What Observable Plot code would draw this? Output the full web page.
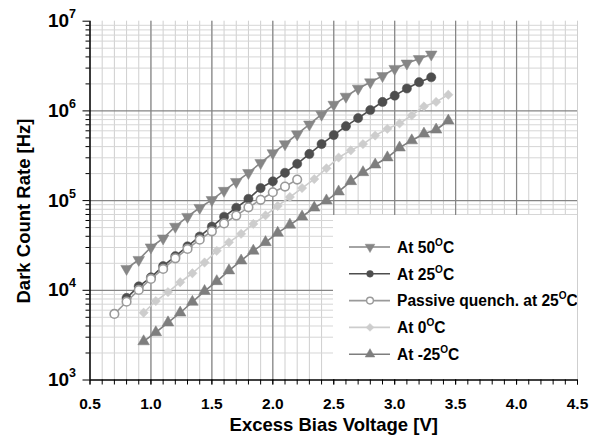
<!DOCTYPE html>
<html><head><meta charset="utf-8">
<script src="https://cdn.jsdelivr.net/npm/d3@7"></script>
<script src="https://cdn.jsdelivr.net/npm/@observablehq/plot@0.6"></script>
<style>
body{margin:0;background:#fff;}
#wrap{position:relative;width:598px;height:442px;overflow:hidden;}
#legend{position:absolute;left:333px;top:215px;}
#ytitle{position:absolute;left:24px;top:211px;transform:translate(-50%,-50%) rotate(-90deg);white-space:nowrap;
  font-family:'Liberation Sans', Arial, sans-serif;font-weight:bold;font-size:18.5px;color:#000;line-height:1;}
</style></head><body><div id="wrap"></div>
<script>
// ---- data ----
const seriesNames = ["At 50", "At 25", "Passive quench. at 25", "At 0", "At -25"];
const v50 = [0.8,0.9,1.0,1.1,1.2,1.3,1.4,1.5,1.6,1.7,1.8,1.9,2.0,2.1,2.2,2.3,2.4,2.5,2.6,2.7,2.8,2.9,3.0,3.1,3.2,3.3];
const dcr50 = [17400,21900,30200,38000,51300,66100,83200,102000,129000,162000,204000,263000,339000,427000,550000,708000,912000,1175000,1445000,1778000,2089000,2455000,2951000,3388000,3802000,4266000];
const v25 = [0.8,0.9,1.0,1.1,1.2,1.3,1.4,1.5,1.6,1.7,1.8,1.9,2.0,2.1,2.2,2.3,2.4,2.5,2.6,2.7,2.8,2.9,3.0,3.1,3.2,3.3];
const dcr25 = [8220,11070,13960,18620,23990,30900,39800,51300,66100,83200,104700,138000,164100,204200,257000,331100,426600,537000,676100,831800,1023000,1259000,1479000,1778000,2089000,2371000];
const vPassive = [0.7,0.8,0.9,1.0,1.1,1.2,1.3,1.4,1.5,1.6,1.7,1.8,1.9,2.0,2.1,2.2];
const dcrPassive = [5450,7460,10090,13400,17300,22700,28900,36700,45500,55600,68100,84100,101900,123900,143500,171400];
const v0 = [0.94,1.04,1.14,1.24,1.34,1.44,1.54,1.64,1.74,1.84,1.94,2.04,2.14,2.24,2.34,2.44,2.54,2.64,2.74,2.84,2.94,3.04,3.14,3.24,3.34,3.44];
const dcr0 = [5620,7590,9550,12300,15490,20420,27540,34280,42660,54950,68390,87100,109600,138000,173800,229100,302000,363100,426600,530900,631000,724400,891300,1122000,1259000,1514000];
const vM25 = [0.94,1.04,1.14,1.24,1.34,1.44,1.54,1.64,1.74,1.84,1.94,2.04,2.14,2.24,2.34,2.44,2.54,2.64,2.74,2.84,2.94,3.04,3.14,3.24,3.34,3.44];
const dcrM25 = [2690,3390,4370,5620,7410,9770,12590,16600,21380,27540,34280,43650,53700,66100,83200,100000,125900,164100,206500,251200,302000,389000,467700,555900,616600,776200];

const xTickLabels = [0.5,1.0,1.5,2.0,2.5,3.0,3.5,4.0,4.5];
const yTickLabels = [1e3,1e4,1e5,1e6,1e7];
const xTitle = "Excess Bias Voltage [V]";
const yTitle = "Dark Count Rate [Hz]";

// ---- styles ----
const styles = [
  {color:"#868686", symbol:"triangle", rotate:180, fill:"#868686", r:4.3, lsym:d3.symbolTriangle, lrot:180},
  {color:"#4e4e4e", symbol:"circle", rotate:0, fill:"#4e4e4e", r:4.6, lsym:d3.symbolCircle, lrot:0},
  {color:"#9a9a9a", symbol:"circle", rotate:0, fill:"#ffffff", r:4.3, lsym:d3.symbolCircle, lrot:0},
  {color:"#cdcdcd", symbol:"diamond2", rotate:0, fill:"#cdcdcd", r:4.2, lsym:d3.symbolDiamond2, lrot:0},
  {color:"#7e7e7e", symbol:"triangle", rotate:0, fill:"#7e7e7e", r:4.3, lsym:d3.symbolTriangle, lrot:0}
];

const allV = [v50, v25, vPassive, v0, vM25];
const allD = [dcr50, dcr25, dcrPassive, dcr0, dcrM25];
const tables = allV.map((vs, i) => vs.map((v, j) => ({series: seriesNames[i], v, dcr: allD[i][j]})));

// grid positions
const xMinor = d3.range(5, 46).map(k => k / 10);
const xMajor = [1.0,1.5,2.0,2.5,3.0,3.5,4.0];
const yMinor = [];
for (const dec of [1e3,1e4,1e5,1e6]) for (let m = 2; m <= 9; m++) yMinor.push(m * dec);
const yMajor = [1e4,1e5,1e6];

const marks = [
  Plot.ruleX(xMinor, {stroke:"#cfcfcf", strokeWidth:1}),
  Plot.ruleY(yMinor, {stroke:"#d6d6d6", strokeWidth:1}),
  Plot.ruleX(xMajor, {stroke:"#858585", strokeWidth:1.2}),
  Plot.ruleY(yMajor, {stroke:"#858585", strokeWidth:1.2}),
];
tables.forEach((t, i) => {
  const s = styles[i];
  marks.push(Plot.line(t, {x:"v", y:"dcr", stroke:s.color, strokeWidth:1.6}));
  marks.push(Plot.dot(t, {x:"v", y:"dcr", symbol:s.symbol, rotate:s.rotate, r:s.r, fill:s.fill, stroke:s.color, strokeWidth: i===2 ? 1.6 : 0.5}));
});
marks.push(
  Plot.ruleX([0.5], {stroke:"#000", strokeWidth:1.5}),
  Plot.ruleY([1e3], {stroke:"#000", strokeWidth:1.5}),
  Plot.axisX(xMinor, {tickSize:5, text:null, label:null}),
  Plot.axisX(xTickLabels, {tickSize:5, tickPadding:13, tickFormat: d => d.toFixed(1), fontSize:15.5, fontWeight:"bold", label:null}),
  Plot.axisY(yMinor, {tickSize:4, text:null, label:null}),
  Plot.axisY(yTickLabels, {tickSize:7, tickPadding:7, tickFormat: d => String(Math.round(Math.log10(d))), fontSize:19, fontWeight:"bold", label:null}),
  Plot.text([xTitle], {text: d => d, frameAnchor:"bottom", dy:51, fontSize:18.5, fontWeight:"bold", textAnchor:"middle"})
);

const plot = Plot.plot({
  width:598, height:442,
  marginLeft:89.5, marginRight:21, marginTop:20.7, marginBottom:62.5,
  x:{domain:[0.5,4.5]},
  y:{type:"log", domain:[1e3,1e7]},
  style:{fontFamily:"'Liberation Sans', Arial, sans-serif", color:"#000", background:"#fff"},
  marks
});
const wrap = document.getElementById("wrap");
wrap.append(plot);

// y-axis title
const yt = document.createElement("div");
yt.id = "ytitle";
yt.textContent = yTitle;
wrap.append(yt);

// superscript exponents on y tick labels
d3.select(plot).selectAll('g[aria-label="y-axis tick label"] text').each(function() {
  const e = this.textContent;
  if (!e) return;
  const t = d3.select(this);
  t.text(null);
  t.append("tspan").text("10");
  t.append("tspan").attr("font-size", 12.5).attr("dy", -9).text(e);
});

// legend box
const lg = d3.create("svg").attr("id","legend").attr("width",244).attr("height",164);
lg.append("rect").attr("width",244).attr("height",164).attr("fill","#fff");
const texts = [];
seriesNames.forEach((name, i) => {
  const s = styles[i];
  const y = 32 + i * 26.8;
  const g = lg.append("g");
  g.append("line").attr("x1",16).attr("x2",57).attr("y1",y).attr("y2",y).attr("stroke",s.color).attr("stroke-width",1.6);
  g.append("path").attr("d", d3.symbol(s.lsym, s.lsym === d3.symbolCircle ? 36 : 40)())
    .attr("transform",`translate(37,${y}) rotate(${s.lrot})`)
    .attr("fill", s.fill).attr("stroke", s.color).attr("stroke-width", i===2 ? 1.4 : 0.5);
  const tx = g.append("text").attr("x",64).attr("y",y+5.8)
    .attr("font-family","'Liberation Sans Narrow', 'Liberation Sans', Arial, sans-serif").attr("font-size",17).attr("font-weight","bold").attr("fill","#000");
  tx.append("tspan").text(name);
  tx.append("tspan").attr("font-size",11).attr("dy",-7).text("O");
  tx.append("tspan").attr("dy",7).text("C");
  texts.push(tx);
});
wrap.append(lg.node());
// fit legend text to the reference width of the longest entry (~181px)
const longest = texts[2].node().getComputedTextLength();
if (longest > 0) {
  const k = 181 / longest;
  texts.forEach(t => {
    t.attr("font-size", 17 * k);
    t.selectAll("tspan").filter((d, j) => j === 1).attr("font-size", 11 * k);
  });
}
</script></body></html>
